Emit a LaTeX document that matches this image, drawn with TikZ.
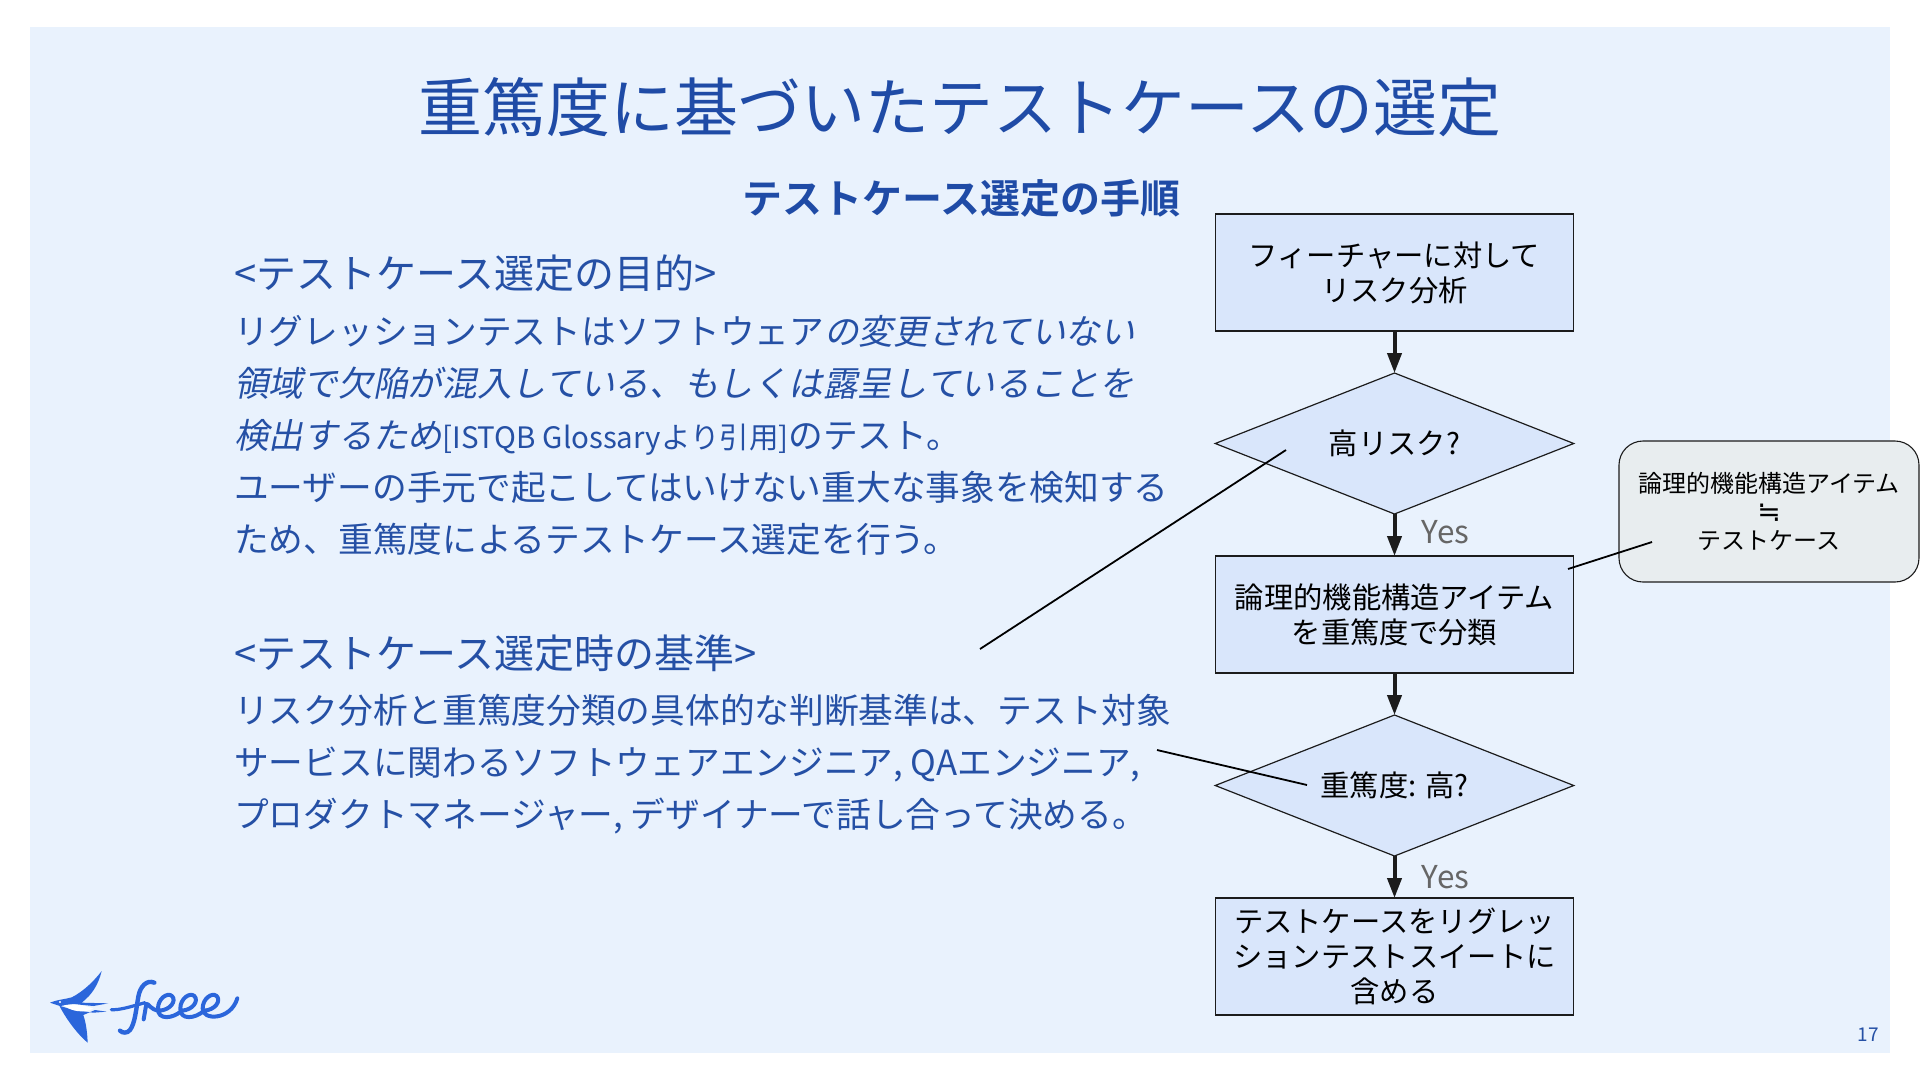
\documentclass[tikz,border=0pt]{standalone}
\usepackage{fontspec}
\setmainfont{Noto Sans CJK JP}[BoldFont=Noto Sans CJK JP Bold]
\newfontfamily\jpit[FakeSlant=0.2]{Noto Sans CJK JP}
\newfontfamily\symfont{DejaVu Sans}
\usetikzlibrary{shapes.geometric,arrows.meta}
\definecolor{panel}{HTML}{E9F2FD}
\definecolor{boxfill}{HTML}{D9E6FB}
\definecolor{notefill}{HTML}{E8EDEF}
\definecolor{titleblue}{HTML}{1F4BA6}
\definecolor{bodyblue}{HTML}{2550A5}
\definecolor{logoblue}{HTML}{2B66DB}
\definecolor{ink}{HTML}{1C1C1C}
\newcommand{\fs}[2]{\fontsize{#1pt}{#2pt}\selectfont}
\tikzset{
 x=1pt,y=-1pt,
 titletext/.style={text=titleblue,font=\fs{63.9}{70},inner sep=0},
 subtext/.style={text=titleblue,font=\fs{40}{44}\bfseries,inner sep=0},
 headtext/.style={text=bodyblue,font=\fs{40}{44},inner sep=0,anchor=base west},
 bodytext/.style={text=bodyblue,font=\fs{34.7}{40},inner sep=0,anchor=base west},
 flowbox/.style={draw=ink,line width=1.1pt,fill=boxfill,minimum width=358.5pt,minimum height=117pt,inner sep=0,outer sep=0,align=center,text=black,font=\fs{29.3}{35}},
 flowdia/.style={shape=diamond,aspect=4,draw=ink,line width=1.2pt,fill=boxfill,minimum width=358.5pt,minimum height=141pt,inner sep=0,outer sep=0,align=center,text=black,font=\fs{29.3}{35}},
 noteshape/.style={draw=ink,line width=1.1pt,fill=notefill,rounded corners=24pt,minimum width=300pt,minimum height=141pt,inner sep=0,align=center,text=black,font=\fs{24}{28.7}},
 flowarrow/.style={draw=ink,line width=4pt,-{Stealth[length=20pt,width=14pt,inset=0pt]}},
 leader/.style={draw=black,line width=1.8pt},
 yeslabel/.style={text=black!60,font=\fs{31.5}{34},inner sep=0},
}
\begin{document}
\begin{tikzpicture}
\useasboundingbox (0,0) rectangle (1920,1080);
\fill[white] (0,0) rectangle (1920,1080);
\fill[panel] (30,27) rectangle (1890,1053);
\node[titletext] (title) at (960,107) {重篤度に基づいたテストケースの選定};
\node[subtext] (sub) at (961,198) {テストケース選定の手順};
\node[headtext] (h1) at (234,288) {<テストケース選定の目的>};
\node[bodytext] (l1) at (234,344) {リグレッションテストはソフトウェア{\jpit の変更されていない}};
\node[bodytext] (l2) at (234,396) {\jpit 領域で欠陥が混入している、もしくは露呈していることを};
\node[bodytext] (l3) at (234,448) {{\jpit 検出するため}{\fontsize{29.5pt}{40pt}\selectfont [ISTQB Glossaryより引用]}のテスト。};
\node[bodytext] (l4) at (234,500) {ユーザーの手元で起こしてはいけない重大な事象を検知する};
\node[bodytext] (l5) at (234,552) {ため、重篤度によるテストケース選定を行う。};
\node[headtext] (h2) at (234,668) {<テストケース選定時の基準>};
\node[bodytext] (m1) at (234,723) {リスク分析と重篤度分類の具体的な判断基準は、テスト対象};
\node[bodytext] (m2) at (234,775) {サービスに関わるソフトウェアエンジニア, QAエンジニア,};
\node[bodytext] (m3) at (234,827) {プロダクトマネージャー, デザイナーで話し合って決める。};
\node[flowbox] (b1) at (1394.5,272.5) {フィーチャーに対して\\リスク分析};
\node[flowdia] (d1) at (1394.5,443.5) {高リスク?};
\node[flowbox] (b2) at (1394.5,614.5) {論理的機能構造アイテム\\を重篤度で分類};
\node[flowdia] (d2) at (1394.5,785.5) {重篤度: 高?};
\node[flowbox] (b3) at (1394.5,956.5) {テストケースをリグレッ\\ションテストスイートに\\含める};
\node[noteshape] (note) at (1769,511.5) {論理的機能構造アイテム\\{\symfont\fontsize{28pt}{28.7pt}\selectfont ≒}\\テストケース};
\draw[flowarrow] (b1.south) -- (d1.north);
\draw[flowarrow] (d1.south) -- (b2.north);
\draw[flowarrow] (b2.south) -- (d2.north);
\draw[flowarrow] (d2.south) -- (b3.north);
\node[yeslabel] (y1) at (1445.5,532) {Yes};
\node[yeslabel] (y2) at (1445.5,877) {Yes};
\coordinate (a1) at (980,649); \coordinate (a2) at (1286,450);
\coordinate (c1) at (1157,750); \coordinate (c2) at (1307,785);
\coordinate (e1) at (1568,569); \coordinate (e2) at (1652,542);
\draw[leader] (a1) -- (a2);
\draw[leader] (c1) -- (c2);
\draw[leader] (e1) -- (e2);
\node[text=bodyblue,font=\fs{19}{20},inner sep=0] (pg) at (1868.5,1035) {17};
% logo
\begin{scope}[shift={(40,960)},scale=1/3]
 \fill[logoblue] (30,128) .. controls (55,118) and (75,118) .. (95,112)
   .. controls (130,95) and (165,60) .. (185,33)
   .. controls (175,75) and (155,105) .. (125,128)
   -- (205,130) -- (160,138) -- (100,132) -- (60,138) -- cycle;
 \fill[logoblue] (58,137) -- (100,150) -- (160,158) -- (200,155) -- (165,150) -- (130,165)
   .. controls (140,195) and (142,225) .. (143,248)
   .. controls (115,225) and (80,180) .. (58,137) -- cycle;
 \fill[white] (72,136) .. controls (100,130) and (135,135) .. (160,146)
   .. controls (130,160) and (95,155) .. (72,136) -- cycle;
 \fill[white] (60,126) circle (3.5);
 \draw[logoblue,line width=3.2pt,line cap=round,line join=round]
   (214,149) .. controls (240,150) and (265,142) .. (315,128);
 \draw[logoblue,line width=4.4pt,line cap=round,line join=round]
   (343,68) .. controls (320,58) and (300,80) .. (295,110)
   .. controls (288,150) and (285,190) .. (270,210)
   .. controls (262,220) and (248,220) .. (240,212);
 \draw[logoblue,line width=4pt,line cap=round,line join=round]
   (311,178) -- (319,132) .. controls (325,128) and (330,150) .. (358,152)
   .. controls (392,150) and (410,122) .. (396,108)
   .. controls (382,96) and (354,116) .. (354,145)
   .. controls (352,182) and (400,176) .. (425,152)
   .. controls (459,150) and (477,122) .. (463,108)
   .. controls (449,96) and (421,116) .. (421,145)
   .. controls (419,182) and (467,176) .. (492,152)
   .. controls (526,150) and (544,122) .. (530,108)
   .. controls (516,96) and (488,116) .. (488,145)
   .. controls (486,182) and (572,182) .. (592,115);
\end{scope}
\end{tikzpicture}
\end{document}
